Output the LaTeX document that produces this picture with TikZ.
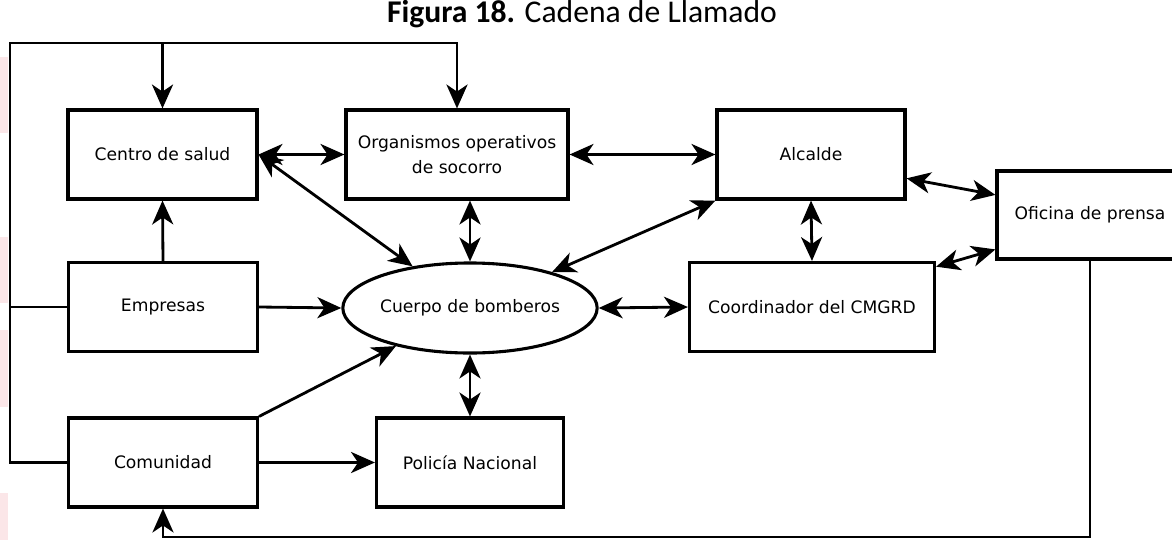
\documentclass[tikz,border=0pt]{standalone}
\usepackage{fontspec}
\setmainfont{DejaVu Sans}
\newfontfamily\titlefont{Carlito}
\usetikzlibrary{arrows.meta,shapes.geometric}
\definecolor{pinkbar}{RGB}{251,230,232}

\begin{document}
\begin{tikzpicture}[x=0.025cm,y=-0.025cm,
    caja/.style={draw,line width=2.2pt,minimum width=4.725cm,minimum height=2.225cm,
      inner sep=0pt,align=center,font=\fontsize{12.2}{17.5}\selectfont},
    flecha/.style={line width=2pt,-{Stealth[length=17pt,width=15pt,inset=5pt]}},
    doble/.style={line width=2pt,{Stealth[length=17pt,width=15pt,inset=5pt]}-{Stealth[length=17pt,width=15pt,inset=5pt]}}]
  \useasboundingbox (0,0) rectangle (1172,540);

  % franjas del fondo
  \foreach \a/\b in {57/133,237/303,330/407,493/540}{
    \fill[pinkbar] (0,\a) rectangle (8,\b);
  }

  \node[font=\titlefont\fontsize{22.5}{27}\selectfont,anchor=base] (titulo) at (582,22)
    {\textbf{Figura 18.} Cadena de Llamado};

  \node[caja] (cs) at (162.5,154.5) {Centro de salud};
  \node[caja,minimum width=5.55cm] (oo) at (457,154.5) {Organismos operativos\\de socorro};
  \node[caja,minimum width=4.7cm] (al) at (811,154.5) {Alcalde};
  \node[caja,minimum width=4.65cm,minimum height=2.2cm] (op) at (1090,215) {Oficina de prensa};
  \node[caja] (em) at (163,307) {Empresas};
  \node[draw,ellipse,line width=2.2pt,minimum width=6cm,minimum height=2.25cm,inner sep=0pt,
    font=\fontsize{12.2}{14}\selectfont] (cb) at (470,308) {Cuerpo de bomberos};
  \node[caja,minimum width=6.125cm] (cd) at (812,307) {Coordinador del CMGRD};
  \node[caja] (co) at (163,462.5) {Comunidad};
  \node[caja,minimum width=4.675cm] (po) at (470,462.5) {Policía Nacional};

  \coordinate (esq) at (10,43);
  \coordinate (fondo) at (163,537);

  % lazo exterior
  \draw[flecha] (co.west) -| (esq) -| (oo.north);
  \draw[flecha] (esq -| cs.north) -- (cs.north);
  \draw[line width=2pt] (em.west) -- (em.west -| esq);
  \draw[flecha] (op.south) |- (fondo) -| (co.south);

  \draw[flecha] (em.north) -- (cs.south);
  \draw[flecha] (em.east) -- (cb.west);
  \draw[flecha] (co.east) -- (po.west);
  \draw[flecha] (co.north east) -- (cb);

  \draw[doble] (cs.east) -- (oo.west);
  \draw[doble] (cs.east) -- (cb);
  \draw[doble] (oo.east) -- (al.west);
  \draw[doble] (cb.north |- oo.south) -- (cb.north);
  \draw[doble] (al.south west) -- (cb);
  \draw[doble] (al.south) -- (cd.north);
  \draw[doble] (cb.east) -- (cd.west);
  \draw[doble] (cb.south) -- (po.north);
  \draw[doble] (al.-14) -- (op.168);
  \draw[doble] (cd.18) -- (op.200);
\end{tikzpicture}
\end{document}
